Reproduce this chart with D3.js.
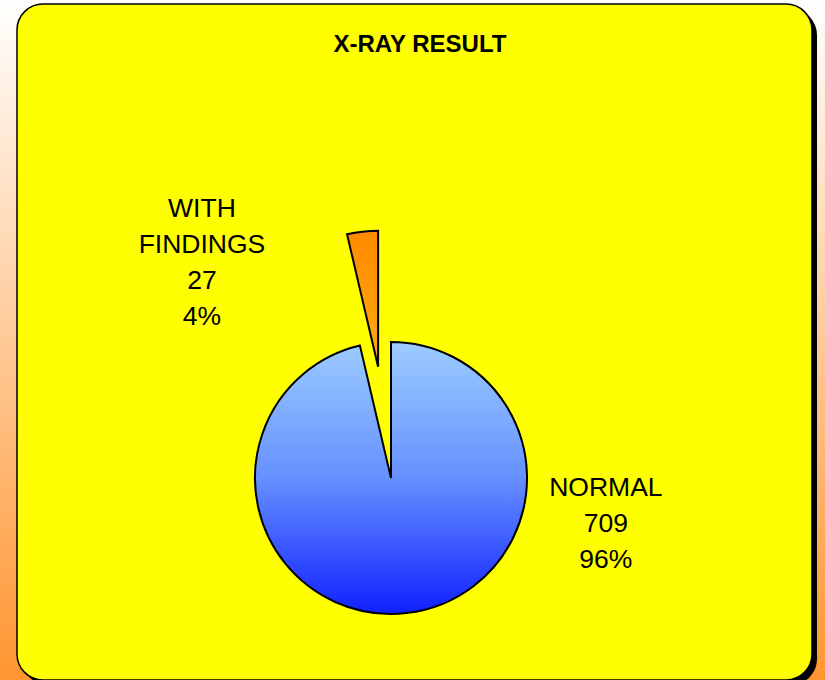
<!DOCTYPE html>
<html>
<head>
<meta charset="utf-8">
<script src="https://cdn.jsdelivr.net/npm/d3@7"></script>
<style>
  html, body { margin: 0; padding: 0; background: #fff; }
  svg { display: block; }
</style>
</head>
<body>
<svg id="chart" width="825" height="680"></svg>
<script>
// X-ray screening results
const categories = ["NORMAL", "WITH FINDINGS"];
const counts = [709, 27];
const percentLabels = ["96%", "4%"];
const titleText = "X-RAY RESULT";

const W = 825, H = 680;
const svg = d3.select("#chart");
const defs = svg.append("defs");

// page backdrop: white fading to orange
const bg = defs.append("linearGradient").attr("id", "bgGrad")
  .attr("x1", 0).attr("y1", 0).attr("x2", 0).attr("y2", 1);
bg.append("stop").attr("offset", "0%").attr("stop-color", "#ffffff");
bg.append("stop").attr("offset", "100%").attr("stop-color", "#ff9530");
svg.append("rect").attr("width", W).attr("height", H).attr("fill", "url(#bgGrad)");

// chart panel with drop shadow
const panel = { x: 17, y: 4, w: 795, h: 676, r: 26 };
svg.append("rect")
  .attr("x", panel.x + 5).attr("y", panel.y + 5)
  .attr("width", panel.w).attr("height", panel.h)
  .attr("rx", panel.r).attr("fill", "#000");
svg.append("rect")
  .attr("x", panel.x).attr("y", panel.y)
  .attr("width", panel.w).attr("height", panel.h)
  .attr("rx", panel.r).attr("fill", "#ffff00")
  .attr("stroke", "#000").attr("stroke-width", 1.5);

// title
svg.append("text")
  .attr("x", 420).attr("y", 52)
  .attr("text-anchor", "middle")
  .attr("font-family", "Liberation Sans, Arial, sans-serif")
  .attr("font-weight", "bold")
  .attr("font-size", 24)
  .text(titleText);

// pie geometry
const cx = 391, cy = 478, radius = 136, explode = 112;

// gradient coordinates are in the slice group's local space (origin at pie centre)
const blue = defs.append("linearGradient").attr("id", "blueGrad")
  .attr("gradientUnits", "userSpaceOnUse")
  .attr("x1", 0).attr("y1", -radius).attr("x2", 0).attr("y2", radius);
blue.append("stop").attr("offset", "0%").attr("stop-color", "#9cccff");
blue.append("stop").attr("offset", "50%").attr("stop-color", "#6690ff");
blue.append("stop").attr("offset", "100%").attr("stop-color", "#1020ff");

const orange = defs.append("linearGradient").attr("id", "orangeGrad")
  .attr("x1", 0).attr("y1", 0).attr("x2", 0).attr("y2", 1);
orange.append("stop").attr("offset", "0%").attr("stop-color", "#ff8a00");
orange.append("stop").attr("offset", "100%").attr("stop-color", "#ffac10");

const fills = ["url(#blueGrad)", "url(#orangeGrad)"];
const explodeBy = [0, explode];

const pie = d3.pie().sort(null).value(d => d.value);
const arcs = pie(categories.map((c, i) => ({ name: c, value: counts[i], pct: percentLabels[i] })));
const arc = d3.arc().innerRadius(0).outerRadius(radius);

const slices = svg.append("g").attr("transform", `translate(${cx},${cy})`);
slices.selectAll("path")
  .data(arcs)
  .join("path")
  .attr("transform", (d, i) => {
    const a = (d.startAngle + d.endAngle) / 2;
    return `translate(${Math.sin(a) * explodeBy[i]},${-Math.cos(a) * explodeBy[i]})`;
  })
  .attr("d", arc)
  .attr("fill", (d, i) => fills[i])
  .attr("stroke", "#000")
  .attr("stroke-width", 2)
  .attr("stroke-linejoin", "miter");

// slice labels: name, count and share stacked
const labelPos = [
  { dx: radius * 1.58, dy: 18 },   // NORMAL, right of the pie
  { dx: -radius * 1.39, dy: -261 } // WITH FINDINGS, upper left
];
const lineH = 36;
const labels = svg.append("g")
  .attr("font-family", "Liberation Sans, Arial, sans-serif")
  .attr("font-size", 26.5)
  .attr("text-anchor", "middle");

arcs.forEach((d, i) => {
  const lines = d.data.name === "WITH FINDINGS"
    ? ["WITH", "FINDINGS", String(d.data.value), d.data.pct]
    : [d.data.name, String(d.data.value), d.data.pct];
  const x = cx + labelPos[i].dx;
  const y0 = cy + labelPos[i].dy;
  lines.forEach((t, k) => {
    labels.append("text")
      .attr("x", x)
      .attr("y", y0 + k * lineH)
      .text(t);
  });
});
</script>
</body>
</html>
